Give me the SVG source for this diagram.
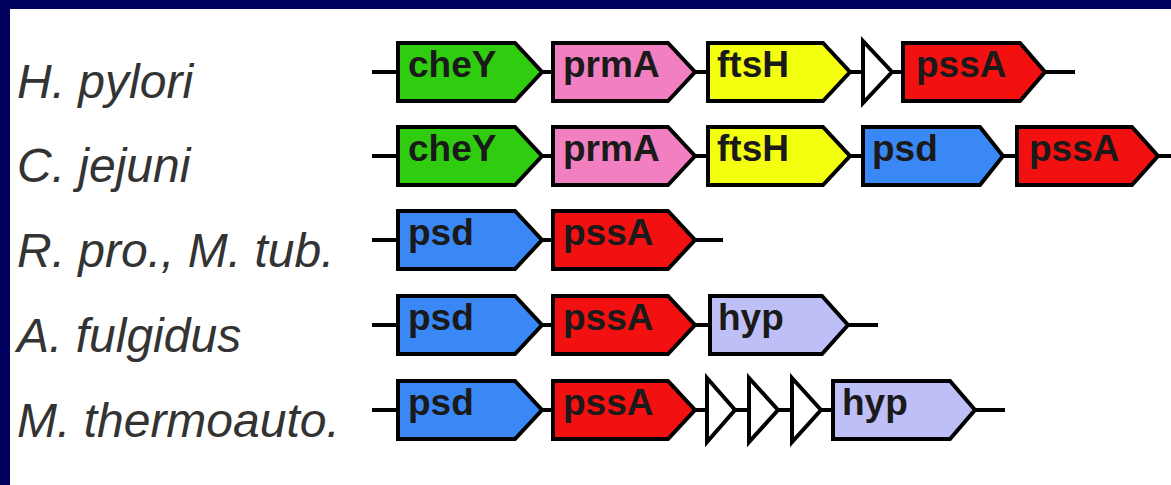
<svg xmlns="http://www.w3.org/2000/svg" width="1171" height="485" viewBox="0 0 1171 485">
  <style>
    .frame { fill: #000060; }
    .species { font-family: "Liberation Sans", Arial, sans-serif; font-style: italic; font-size: 48px; fill: #333333; }
    .gene path { stroke: #000000; stroke-width: 4; stroke-linejoin: miter; }
    .gene text { font-family: "Liberation Sans", Arial, sans-serif; font-weight: bold; font-size: 37px; fill: #1a1a1a; }
    .spacer { fill: #ffffff; stroke: #000000; stroke-width: 4; }
    .backbone { stroke: #000000; stroke-width: 4; fill: none; }
    .cheY { fill: #2fcc10; }
    .prmA { fill: #f280c0; }
    .ftsH { fill: #f4ff10; }
    .psd  { fill: #3a88f5; }
    .pssA { fill: #f21010; }
    .hyp  { fill: #bfbff8; }
  </style>

  <!-- page background and frame -->
  <rect x="0" y="0" width="1171" height="485" fill="#ffffff"/>
  <rect class="frame" x="0" y="0" width="1171" height="9"/>
  <rect class="frame" x="0" y="0" width="10" height="485"/>

  <!-- species names -->
  <g id="labels">
    <text class="species" x="17" y="98">H. pylori</text>
    <text class="species" x="17" y="182">C. jejuni</text>
    <text class="species" x="17" y="267">R. pro., M. tub.</text>
    <text class="species" x="17" y="352">A. fulgidus</text>
    <text class="species" x="17" y="437">M. thermoauto.</text>
  </g>

  <!-- chromosome backbones linking the genes -->
  <g id="connectors">
    <line class="backbone" x1="372" y1="72" x2="1075" y2="72"/>
    <line class="backbone" x1="372" y1="156" x2="1171" y2="156"/>
    <line class="backbone" x1="372" y1="240" x2="723" y2="240"/>
    <line class="backbone" x1="372" y1="325" x2="878" y2="325"/>
    <line class="backbone" x1="372" y1="410" x2="1005" y2="410"/>
  </g>

  <!-- H. pylori -->
  <g id="hp-cheY" class="gene"><path class="cheY" d="M398,43 H515 L542,72 L515,101 H398 Z"/><text x="408" y="77">cheY</text></g>
  <g id="hp-prmA" class="gene"><path class="prmA" d="M553,43 H668 L695,72 L668,101 H553 Z"/><text x="563" y="77">prmA</text></g>
  <g id="hp-ftsH" class="gene"><path class="ftsH" d="M708,43 H823 L850,72 L823,101 H708 Z"/><text x="717" y="77">ftsH</text></g>
  <g id="hp-orf1"><path class="spacer" d="M863,41 L892,72 L863,103 Z"/></g>
  <g id="hp-pssA" class="gene"><path class="pssA" d="M903,43 H1020 L1045,72 L1020,101 H903 Z"/><text x="916" y="77">pssA</text></g>

  <!-- C. jejuni -->
  <g id="cj-cheY" class="gene"><path class="cheY" d="M398,127 H515 L542,156 L515,185 H398 Z"/><text x="408" y="161">cheY</text></g>
  <g id="cj-prmA" class="gene"><path class="prmA" d="M553,127 H668 L695,156 L668,185 H553 Z"/><text x="563" y="161">prmA</text></g>
  <g id="cj-ftsH" class="gene"><path class="ftsH" d="M708,127 H823 L850,156 L823,185 H708 Z"/><text x="717" y="161">ftsH</text></g>
  <g id="cj-psd" class="gene"><path class="psd" d="M863,127 H980 L1003,156 L980,185 H863 Z"/><text x="872" y="161">psd</text></g>
  <g id="cj-pssA" class="gene"><path class="pssA" d="M1017,127 H1132 L1158,156 L1132,185 H1017 Z"/><text x="1029" y="161">pssA</text></g>

  <!-- R. pro., M. tub. -->
  <g id="rm-psd" class="gene"><path class="psd" d="M398,211 H515 L542,240 L515,269 H398 Z"/><text x="408" y="245">psd</text></g>
  <g id="rm-pssA" class="gene"><path class="pssA" d="M553,211 H668 L695,240 L668,269 H553 Z"/><text x="563" y="245">pssA</text></g>

  <!-- A. fulgidus -->
  <g id="af-psd" class="gene"><path class="psd" d="M398,296 H515 L542,325 L515,354 H398 Z"/><text x="408" y="330">psd</text></g>
  <g id="af-pssA" class="gene"><path class="pssA" d="M553,296 H668 L695,325 L668,354 H553 Z"/><text x="563" y="330">pssA</text></g>
  <g id="af-hyp" class="gene"><path class="hyp" d="M710,296 H822 L848,325 L822,354 H710 Z"/><text x="718" y="330">hyp</text></g>

  <!-- M. thermoauto. -->
  <g id="mt-psd" class="gene"><path class="psd" d="M398,381 H515 L542,410 L515,439 H398 Z"/><text x="408" y="415">psd</text></g>
  <g id="mt-pssA" class="gene"><path class="pssA" d="M553,381 H668 L695,410 L668,439 H553 Z"/><text x="563" y="415">pssA</text></g>
  <g id="mt-orf1"><path class="spacer" d="M707,378 L735,410 L707,442 Z"/></g>
  <g id="mt-orf2"><path class="spacer" d="M749,378 L778,410 L749,442 Z"/></g>
  <g id="mt-orf3"><path class="spacer" d="M792,378 L821,410 L792,442 Z"/></g>
  <g id="mt-hyp" class="gene"><path class="hyp" d="M833,381 H950 L975,410 L950,439 H833 Z"/><text x="842" y="415">hyp</text></g>
</svg>
